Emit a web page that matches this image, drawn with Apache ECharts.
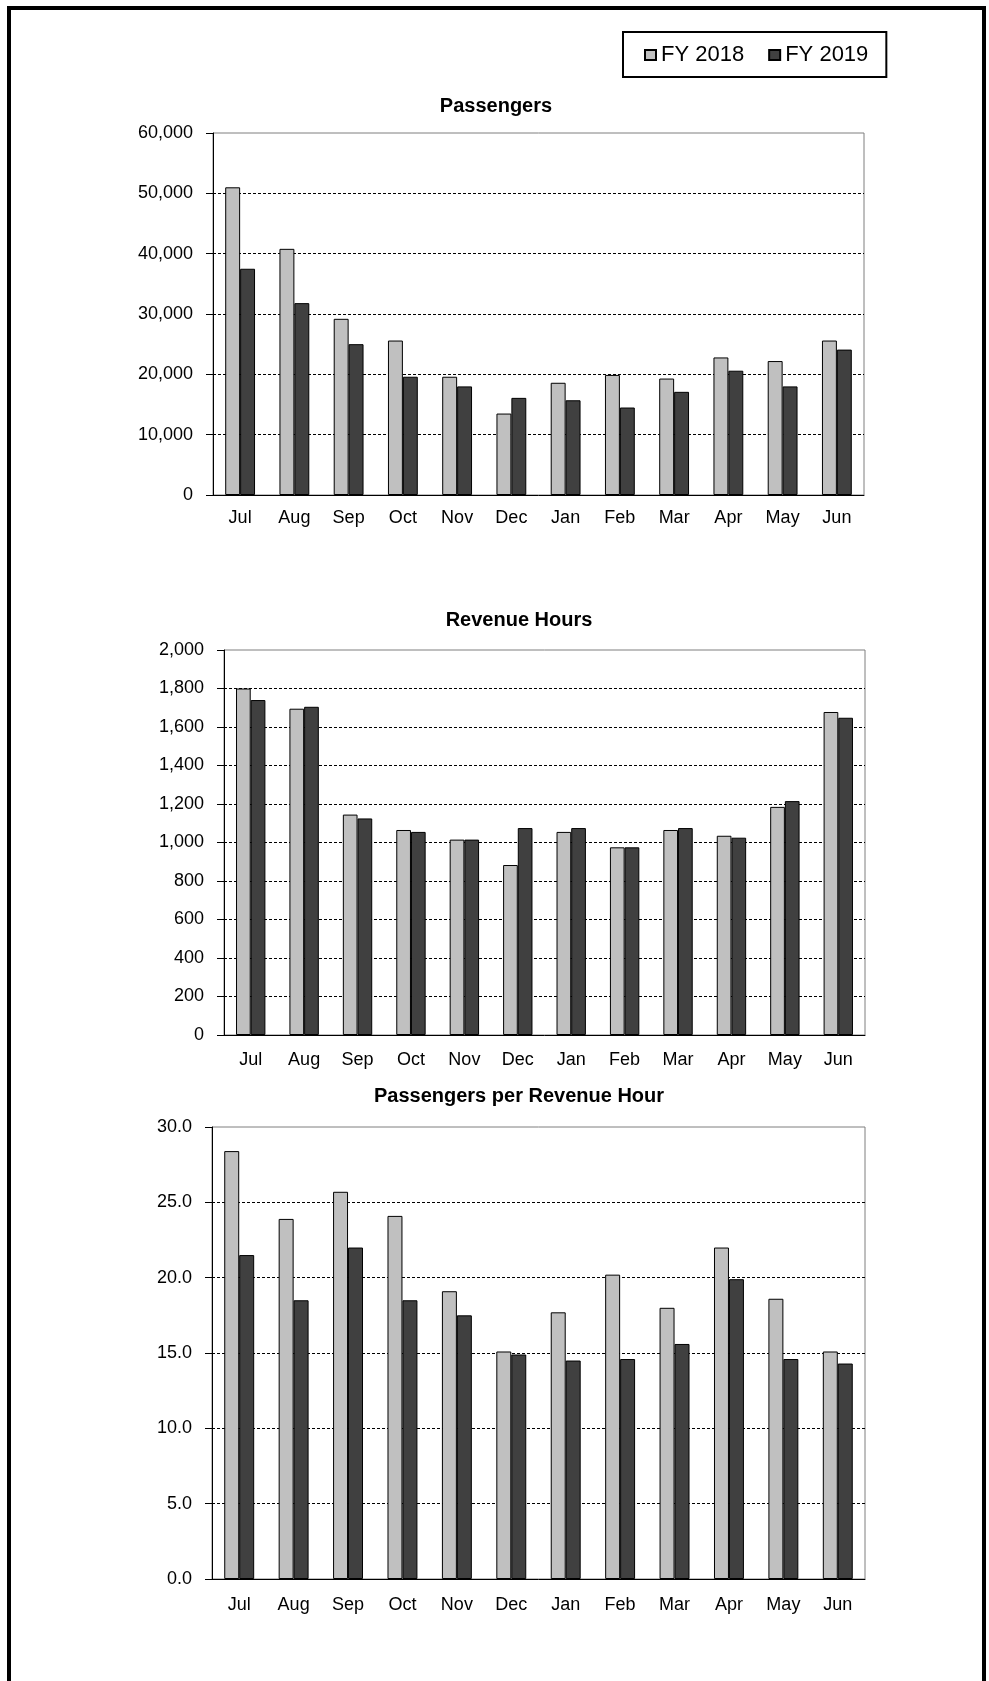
<!DOCTYPE html>
<html>
<head>
<meta charset="utf-8">
<script src="https://cdn.jsdelivr.net/npm/echarts@6/dist/echarts.min.js"></script>
<style>
  html, body { margin: 0; padding: 0; background: #ffffff; }
  #chart { width: 989px; height: 1681px; }
</style>
</head>
<body>
<div id="chart"></div>
<script>
// Monthly fiscal-year comparison, FY 2018 vs FY 2019
const months = ['Jul', 'Aug', 'Sep', 'Oct', 'Nov', 'Dec', 'Jan', 'Feb', 'Mar', 'Apr', 'May', 'Jun'];
const seriesNames = ['FY 2018', 'FY 2019'];

const passengers2018 = [51000, 40800, 29200, 25600, 19600, 13500, 18600, 19900, 19300, 22800, 22200, 25600];
const passengers2019 = [37500, 31800, 25000, 19600, 18000, 16100, 15700, 14500, 17100, 20600, 18000, 24100];

const revHours2018 = [1800, 1695, 1145, 1065, 1015, 883, 1055, 975, 1065, 1035, 1185, 1678];
const revHours2019 = [1740, 1705, 1125, 1055, 1015, 1075, 1075, 975, 1075, 1025, 1215, 1648];

const perHour2018 = [28.4, 23.9, 25.7, 24.1, 19.1, 15.1, 17.7, 20.2, 18.0, 22.0, 18.6, 15.1];
const perHour2019 = [21.5, 18.5, 22.0, 18.5, 17.5, 14.9, 14.5, 14.6, 15.6, 19.9, 14.6, 14.3];

const panelTitles = ['Passengers', 'Revenue Hours', 'Passengers per Revenue Hour'];

const FONT = 'Arial, "Liberation Sans", sans-serif';
const LIGHT = '#c0c0c0';
const DARK = '#404040';

const panels = [
  { grid: { left: 213, right: 125, top: 133, height: 362 }, max: 60000, interval: 10000, decimals: 0, xMargin: 14, data: [passengers2018, passengers2019] },
  { grid: { left: 224, right: 124, top: 650, height: 385 }, max: 2000, interval: 200, decimals: 0, xMargin: 16, data: [revHours2018, revHours2019] },
  { grid: { left: 212, right: 124, top: 1127, height: 452 }, max: 30, interval: 5, decimals: 1, xMargin: 17, data: [perHour2018, perHour2019] }
];

function fmt(v, decimals) {
  return Number(v).toLocaleString('en-US', { minimumFractionDigits: decimals, maximumFractionDigits: decimals });
}

const grids = panels.map(p => Object.assign({
  show: true,
  borderColor: '#7f7f7f',
  borderWidth: 1,
  backgroundColor: 'transparent'
}, p.grid));

const xAxes = panels.map((p, i) => ({
  type: 'category',
  gridIndex: i,
  data: months,
  axisLine: { lineStyle: { color: '#000', width: 1 } },
  axisTick: { show: false },
  axisLabel: { color: '#000', fontFamily: FONT, fontSize: 18, margin: p.xMargin }
}));

const yAxes = panels.map((p, i) => ({
  type: 'value',
  gridIndex: i,
  min: 0,
  max: p.max,
  interval: p.interval,
  axisLine: { show: true, lineStyle: { color: '#000', width: 1 } },
  axisTick: { show: true, inside: false, length: 7, lineStyle: { color: '#000' } },
  axisLabel: { color: '#000', fontFamily: FONT, fontSize: 18, margin: 20, formatter: v => fmt(v, p.decimals) },
  splitLine: { show: true, showMinLine: false, showMaxLine: false, lineStyle: { color: '#000', type: [3, 2], width: 1 } }
}));

const series = [];
panels.forEach((p, i) => {
  p.data.forEach((vals, k) => {
    series.push({
      name: seriesNames[k],
      type: 'bar',
      xAxisIndex: i,
      yAxisIndex: i,
      data: vals,
      barGap: '0%',
      barCategoryGap: '45%',
      itemStyle: { color: k === 0 ? LIGHT : DARK, borderColor: '#000', borderWidth: 1 },
      emphasis: { disabled: true },
      animation: false
    });
  });
});

const titleCenters = [ [496, 96], [519, 610], [519, 1086] ];
const titles = panelTitles.map((t, i) => ({
  text: t,
  left: titleCenters[i][0],
  top: titleCenters[i][1],
  textAlign: 'center',
  padding: 0,
  textStyle: { fontFamily: FONT, fontSize: 20, fontWeight: 'bold', color: '#000' }
}));

const chart = echarts.init(document.getElementById('chart'), null, { renderer: 'canvas' });
chart.setOption({
  animation: false,
  backgroundColor: '#ffffff',
  title: titles,
  legend: {
    data: seriesNames,
    left: 623,
    top: 32,
    orient: 'horizontal',
    icon: 'rect',
    itemWidth: 11,
    itemHeight: 10,
    itemGap: 24,
    padding: [12, 18, 11, 21],
    borderColor: '#000',
    borderWidth: 2,
    backgroundColor: '#fff',
    selectedMode: false,
    textStyle: { fontFamily: FONT, fontSize: 22, color: '#000', padding: [0, 0, 0, 0] }
  },
  grid: grids,
  xAxis: xAxes,
  yAxis: yAxes,
  series: series,
  graphic: [{
    type: 'rect',
    shape: { x: 9, y: 8, width: 975, height: 1690 },
    style: { fill: 'none', stroke: '#000', lineWidth: 4 },
    silent: true
  }]
});
</script>
</body>
</html>
